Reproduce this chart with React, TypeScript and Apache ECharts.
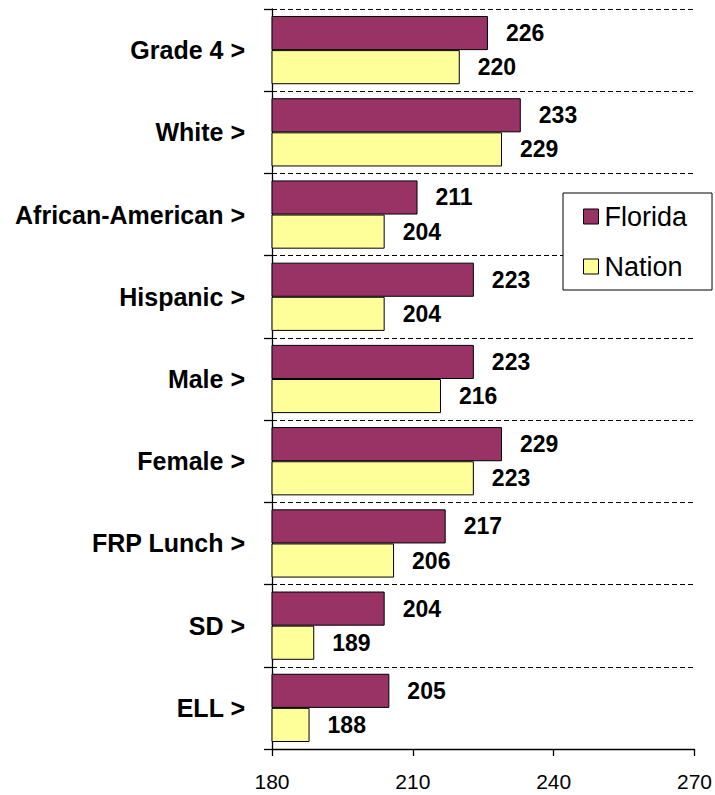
import React, { useEffect, useRef } from "react";
import * as echarts from "echarts";

const categories = [
  "Grade 4 >",
  "White >",
  "African-American >",
  "Hispanic >",
  "Male >",
  "Female >",
  "FRP Lunch >",
  "SD >",
  "ELL >",
];
const floridaValues = [226, 233, 211, 223, 223, 229, 217, 204, 205];
const nationValues = [220, 229, 204, 204, 216, 223, 206, 189, 188];
const xTicks = { min: 180, max: 270, interval: 30 };

const FONT = "'Liberation Sans', Arial, sans-serif";

export default function App() {
  const ref = useRef<HTMLDivElement>(null);
  useEffect(() => {
    document.body.style.margin = "0";
    if (!ref.current) return;
    const chart = echarts.init(ref.current, undefined, { renderer: "svg" });
    const labelStyle = {
      show: true,
      position: "right" as const,
      distance: 18,
      fontSize: 23,
      fontWeight: "bold" as const,
      color: "#000",
      fontFamily: FONT,
    };
    chart.setOption({
      animation: false,
      backgroundColor: "#fff",
      textStyle: { fontFamily: FONT },
      grid: { left: 272, right: 16, top: 9, bottom: 46 },
      legend: {
        orient: "vertical",
        left: 563,
        top: 193,
        padding: [10, 25, 10, 20],
        itemGap: 23,
        itemWidth: 15,
        itemHeight: 15,
        backgroundColor: "#fff",
        borderColor: "#000",
        borderWidth: 1,
        icon: "rect",
        itemStyle: { borderColor: "#000", borderWidth: 1 },
        textStyle: { fontSize: 27, color: "#000", fontFamily: FONT, padding: [0, 0, 0, 1] },
        data: ["Florida", "Nation"],
      },
      xAxis: {
        type: "value",
        min: xTicks.min,
        max: xTicks.max,
        interval: xTicks.interval,
        splitLine: { show: false },
        axisLine: { show: true, lineStyle: { color: "#000", width: 1.3 } },
        axisTick: { show: true, length: 7, lineStyle: { color: "#000", width: 1.3 } },
        axisLabel: { fontSize: 21, color: "#000", margin: 22, fontFamily: FONT },
      },
      yAxis: {
        type: "category",
        inverse: true,
        data: categories,
        axisLine: { show: true, lineStyle: { color: "#000", width: 1.3 } },
        axisTick: { show: true, length: 8, lineStyle: { color: "#000", width: 1.3 } },
        splitLine: { show: true, lineStyle: { color: "#000", type: [5, 3], width: 1.2 } },
        axisLabel: {
          fontSize: 25,
          fontWeight: "bold",
          color: "#000",
          margin: 27,
          fontFamily: FONT,
        },
      },
      series: [
        {
          name: "Florida",
          type: "bar",
          data: floridaValues,
          barGap: "0%",
          barCategoryGap: "17%",
          itemStyle: { color: "#993366", borderColor: "#000", borderWidth: 1 },
          label: labelStyle,
        },
        {
          name: "Nation",
          type: "bar",
          data: nationValues,
          barGap: "0%",
          barCategoryGap: "17%",
          itemStyle: { color: "#FFFF99", borderColor: "#000", borderWidth: 1 },
          label: labelStyle,
        },
      ],
    });
    return () => chart.dispose();
  }, []);
  return <div ref={ref} style={{ width: 715, height: 795 }} />;
}
